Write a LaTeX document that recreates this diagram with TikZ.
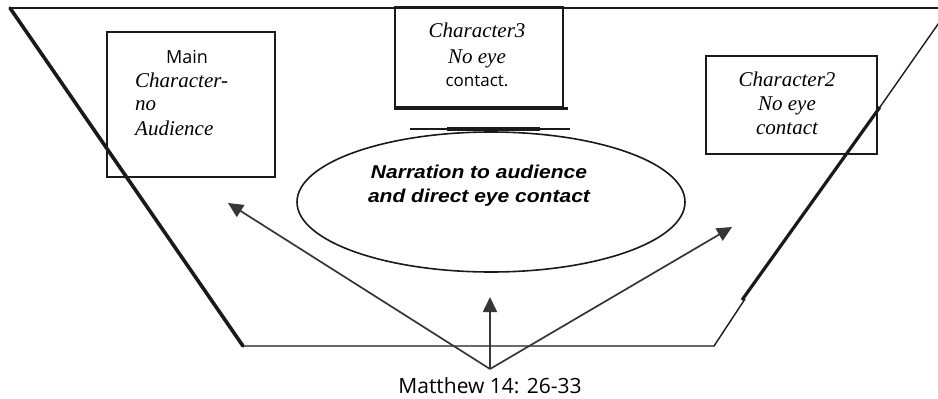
\documentclass[tikz,border=0pt]{standalone}
\usepackage{fontspec}
\setmainfont{Liberation Serif}
\newfontfamily\narfont{Liberation Sans}
\newfontfamily\osans{Open Sans}
\usetikzlibrary{arrows.meta,shapes.geometric}
\definecolor{ink}{HTML}{1A1A1A}
\definecolor{arr}{HTML}{363636}
\tikzset{
  charbox/.style={draw=ink,line width=2.3pt,inner sep=0pt,fill=none},
  stageline/.style={draw=ink,line width=1.4pt},
  thickline/.style={draw=ink,line width=3.6pt},
  sight/.style={draw=arr,line width=1.7pt,-{Triangle[length=15pt,width=14pt]}},
  serifit/.style={font=\fontsize{21}{24}\selectfont\itshape,inner sep=0pt},
  sanssm/.style={font=\osans\fontsize{17}{20}\selectfont,inner sep=0pt},
}
\begin{document}
\begin{tikzpicture}[x=1pt,y=-1pt]
\useasboundingbox (0,0) rectangle (938,399);
\clip (0,0) rectangle (938,399);
\fill[white] (0,0) rectangle (938,399);
% stage outline
\coordinate (tl) at (10,8);
\coordinate (tr) at (938,8);
\coordinate (bl) at (243,346);
\coordinate (br) at (714,346);
\coordinate (r1) at (745,299);
\coordinate (r1b) at (742,300);
\coordinate (r2) at (880,107);
\coordinate (r3) at (950,7);
\draw[stageline] (tl) -- (tr);
\draw[stageline] (bl) -- (br) -- (r1);
\draw[stageline] (r2) -- (r3);
\draw[thickline,line cap=round] (tl) -- (bl);
\draw[thickline,line width=3.2pt] (r1b) -- (r2);
% Main character box
\node[charbox,minimum width=168pt,minimum height=145pt] (mainbox) at (191,104.5) {};
\node[sanssm,font=\osans\fontsize{18}{20}\selectfont,anchor=base] (tmain) at (187,63) {Main};
\node[serifit,anchor=base west] (tchar) at (135,87) {Character-};
\node[serifit,anchor=base west] (tno) at (135,110) {no};
\node[serifit,anchor=base west] (taud) at (135,135) {Audience};
% Character3 box
\node[charbox,minimum width=168pt,minimum height=100pt] (c3box) at (479,57) {};
\draw[ink,line width=3.2pt] (c3box.south west) -- ([xshift=4pt]c3box.south east);
\node[serifit,anchor=base] (c3a) at (477,37) {Character3};
\node[serifit,anchor=base] (c3b) at (477,63) {No eye};
\node[sanssm,anchor=base] (c3c) at (477,86) {contact.};
\coordinate (ul1) at (410,129);
\coordinate (ul2) at (570,129);
\coordinate (ut1) at (447,129);
\coordinate (ut2) at (540,129);
\draw[ink,line width=1.2pt] (ul1) -- (ul2);
\draw[ink,line width=3.5pt] (ut1) -- (ut2);
% Character2 box
\node[charbox,minimum width=171pt,minimum height=98pt] (c2box) at (791.5,105) {};
\node[serifit,anchor=base] (c2a) at (787,86) {Character2};
\node[serifit,anchor=base] (c2b) at (787,110) {No eye};
\node[serifit,anchor=base] (c2c) at (787,134) {contact};
% ellipse
\node[draw=ink,line width=1.6pt,ellipse,minimum width=388pt,minimum height=140pt,inner sep=0pt] (narr) at (491,202) {};
\node[font=\narfont\fontsize{18.6}{24}\selectfont\bfseries\itshape,inner sep=0pt,anchor=base,xscale=1.13] (n1) at (479,178) {Narration to audience};
\node[font=\narfont\fontsize{18.6}{24}\selectfont\bfseries\itshape,inner sep=0pt,anchor=base,xscale=1.13] (n2) at (479,202) {and direct eye contact};
% arrows
\coordinate (src) at (490,369);
\coordinate (tipl) at (228,203);
\coordinate (tipu) at (490,297);
\coordinate (tipr) at (732,227);
\draw[sight] (src) -- (tipl);
\draw[sight] (src) -- (tipu);
\draw[sight] (src) -- (tipr);
% caption
\node[font=\osans\fontsize{21}{24}\selectfont,inner sep=0pt,anchor=base] (cap) at (490,393) {Matthew 14: 26-33};
\end{tikzpicture}
\end{document}
